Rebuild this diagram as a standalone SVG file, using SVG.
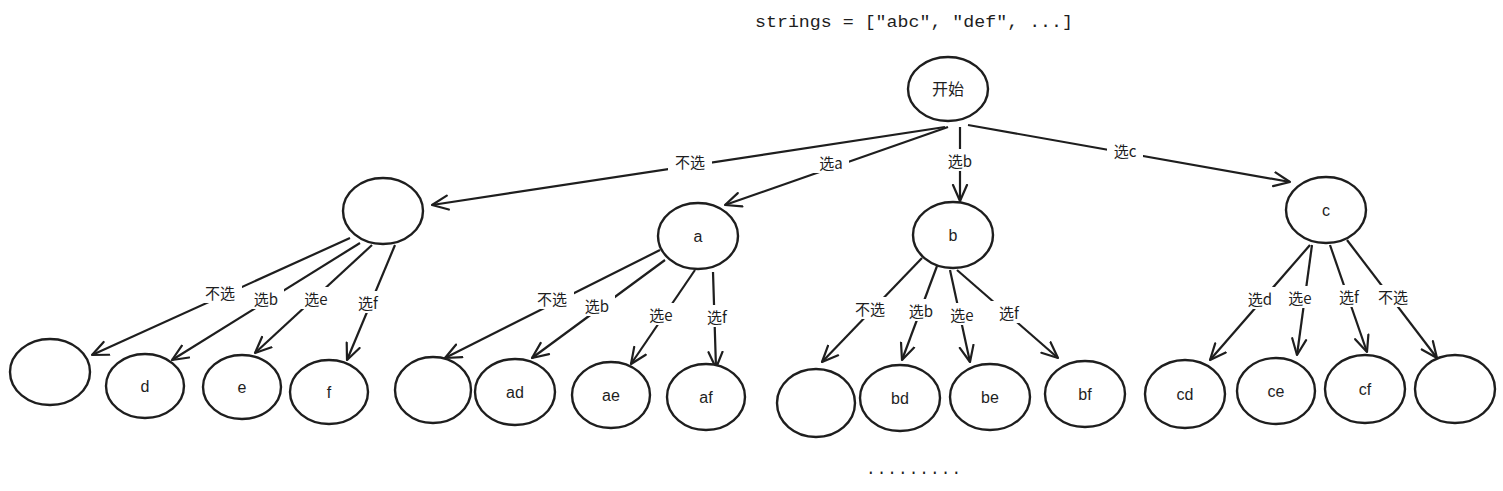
<svg xmlns="http://www.w3.org/2000/svg" width="1503" height="491" viewBox="0 0 1503 491">
<defs>
<style>
.n ellipse{fill:#fff;stroke:#1e1e1e;stroke-width:2.4}
.n text{font-family:"Liberation Sans","Noto Sans CJK SC",sans-serif;font-size:16px;fill:#1e1e1e;text-anchor:middle;dominant-baseline:central}
.e line{stroke:#1e1e1e;stroke-width:2.2;marker-end:url(#ah)}
.e rect{fill:#fff}
.e text{font-family:"Noto Sans CJK SC","Liberation Sans",sans-serif;font-size:15px;fill:#1e1e1e;text-anchor:middle;dominant-baseline:central}
.t{font-family:"Liberation Mono",monospace;font-size:16px;fill:#1e1e1e}
</style>
<marker id="ah" viewBox="0 0 18 18" refX="17" refY="9" markerWidth="18" markerHeight="18" markerUnits="userSpaceOnUse" orient="auto">
<path d="M1,2 L17,9 L1,16" fill="none" stroke="#1e1e1e" stroke-width="2.2" stroke-linecap="round" stroke-linejoin="round"/>
</marker>
</defs>
<rect width="1503" height="491" fill="#fff"/>
<text class="t" x="755" y="27" textLength="318" lengthAdjust="spacingAndGlyphs">strings = ["abc", "def", ...]</text>
<text class="t" x="866" y="474" textLength="95" lengthAdjust="spacing">.........</text>

<g id="connectors" class="e">
<line x1="945" y1="127" x2="432" y2="205"/>
<line x1="948" y1="127" x2="725" y2="205"/>
<line x1="960" y1="127" x2="960" y2="201"/>
<line x1="968" y1="125" x2="1290" y2="182"/>
<line x1="350" y1="238" x2="92" y2="355"/>
<line x1="360" y1="243" x2="172" y2="360"/>
<line x1="372" y1="245" x2="255" y2="353"/>
<line x1="395" y1="245" x2="347" y2="360"/>
<line x1="660" y1="250" x2="445" y2="358"/>
<line x1="665" y1="260" x2="532" y2="358"/>
<line x1="695" y1="270" x2="631" y2="364"/>
<line x1="713" y1="272" x2="716" y2="368"/>
<line x1="922" y1="258" x2="822" y2="362"/>
<line x1="937" y1="266" x2="902" y2="360"/>
<line x1="950" y1="270" x2="970" y2="362"/>
<line x1="957" y1="270" x2="1058" y2="358"/>
<line x1="1310" y1="245" x2="1210" y2="360"/>
<line x1="1312" y1="245" x2="1297" y2="355"/>
<line x1="1330" y1="245" x2="1367" y2="352"/>
<line x1="1347" y1="240" x2="1437" y2="358"/>
<g>
<rect x="668" y="150" width="44" height="22"/><text x="690" y="161">不选</text>
<rect x="813" y="151" width="36" height="22"/><text x="831" y="162">选a</text>
<rect x="942" y="149" width="36" height="22"/><text x="960" y="160">选b</text>
<rect x="1107" y="139" width="36" height="22"/><text x="1125" y="150">选c</text>
<rect x="198" y="281" width="44" height="22"/><text x="220" y="292">不选</text>
<rect x="248" y="287" width="36" height="22"/><text x="266" y="298">选b</text>
<rect x="298" y="287" width="36" height="22"/><text x="316" y="298">选e</text>
<rect x="350" y="291" width="36" height="22"/><text x="368" y="302">选f</text>
<rect x="530" y="287" width="44" height="22"/><text x="552" y="298">不选</text>
<rect x="579" y="294" width="36" height="22"/><text x="597" y="305">选b</text>
<rect x="643" y="303" width="36" height="22"/><text x="661" y="314">选e</text>
<rect x="699" y="305" width="36" height="22"/><text x="717" y="316">选f</text>
<rect x="848" y="297" width="44" height="22"/><text x="870" y="308">不选</text>
<rect x="903" y="299" width="36" height="22"/><text x="921" y="310">选b</text>
<rect x="944" y="303" width="36" height="22"/><text x="962" y="314">选e</text>
<rect x="991" y="301" width="36" height="22"/><text x="1009" y="312">选f</text>
<rect x="1242" y="287" width="36" height="22"/><text x="1260" y="298">选d</text>
<rect x="1282" y="286" width="36" height="22"/><text x="1300" y="297">选e</text>
<rect x="1331" y="285" width="36" height="22"/><text x="1349" y="296">选f</text>
<rect x="1371" y="285" width="44" height="22"/><text x="1393" y="296">不选</text>
</g>
</g>

<g id="root" class="n"><ellipse cx="948" cy="89" rx="40" ry="32"/><text x="948" y="89">开始</text></g>
<g id="n-skip" class="n"><ellipse cx="383" cy="211" rx="40" ry="33"/></g>
<g id="n-a" class="n"><ellipse cx="698" cy="236" rx="40" ry="33"/><text x="698" y="236">a</text></g>
<g id="n-b" class="n"><ellipse cx="953" cy="235" rx="40" ry="33"/><text x="953" y="235">b</text></g>
<g id="n-c" class="n"><ellipse cx="1326" cy="210" rx="40" ry="33"/><text x="1326" y="210">c</text></g>

<g id="l-0" class="n"><ellipse cx="50" cy="372" rx="40" ry="33"/></g>
<g id="l-d" class="n"><ellipse cx="145" cy="386" rx="39" ry="32"/><text x="145" y="386">d</text></g>
<g id="l-e" class="n"><ellipse cx="242" cy="387" rx="39" ry="32"/><text x="242" y="387">e</text></g>
<g id="l-f" class="n"><ellipse cx="329" cy="392" rx="39" ry="32"/><text x="329" y="392">f</text></g>
<g id="l-a0" class="n"><ellipse cx="433" cy="390" rx="38" ry="33"/></g>
<g id="l-ad" class="n"><ellipse cx="515" cy="392" rx="40" ry="33"/><text x="515" y="392">ad</text></g>
<g id="l-ae" class="n"><ellipse cx="611" cy="395" rx="39" ry="33"/><text x="611" y="395">ae</text></g>
<g id="l-af" class="n"><ellipse cx="706" cy="397" rx="39" ry="33"/><text x="706" y="397">af</text></g>
<g id="l-b0" class="n"><ellipse cx="816" cy="403" rx="39" ry="34"/></g>
<g id="l-bd" class="n"><ellipse cx="900" cy="398" rx="40" ry="33"/><text x="900" y="398">bd</text></g>
<g id="l-be" class="n"><ellipse cx="990" cy="397" rx="40" ry="33"/><text x="990" y="397">be</text></g>
<g id="l-bf" class="n"><ellipse cx="1085" cy="394" rx="40" ry="33"/><text x="1085" y="394">bf</text></g>
<g id="l-cd" class="n"><ellipse cx="1185" cy="394" rx="40" ry="34"/><text x="1185" y="394">cd</text></g>
<g id="l-ce" class="n"><ellipse cx="1276" cy="391" rx="39" ry="33"/><text x="1276" y="391">ce</text></g>
<g id="l-cf" class="n"><ellipse cx="1365" cy="389" rx="40" ry="34"/><text x="1365" y="389">cf</text></g>
<g id="l-c0" class="n"><ellipse cx="1455" cy="389" rx="40" ry="34"/></g>
</svg>
